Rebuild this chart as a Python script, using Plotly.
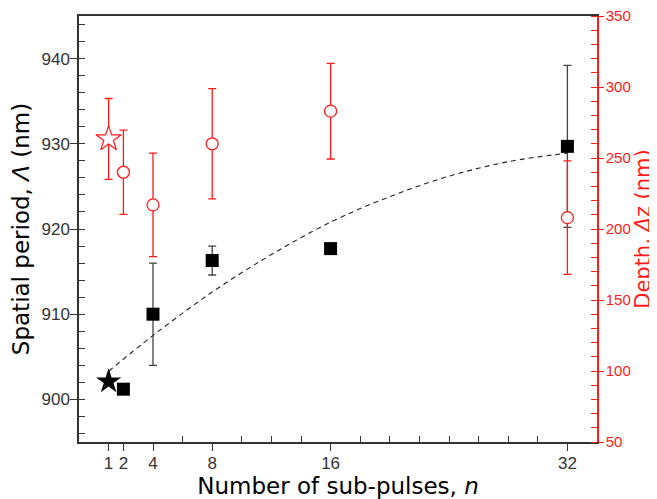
import plotly.graph_objects as go

# ---- data ----
n_period = [2, 4, 8, 16, 32]
period = [901.2, 910.0, 916.3, 917.7, 929.7]
period_err = [0, 6.0, 1.7, 0, 9.5]

n_star = [1]
period_star = [902.1]

n_depth = [2, 4, 8, 16, 32]
depth = [240.0, 217.0, 260.0, 283.0, 208.0]
depth_err = [29.7, 36.5, 38.8, 33.7, 40.0]

depth_star = [263.4]
depth_star_err = [28.5]

n_fit = [1, 4, 8, 12, 16, 20, 24, 28, 32]
period_fit = [903.3, 907.5, 912.6, 917.0, 920.8, 923.8, 926.2, 927.9, 928.9]

x_ticks = [1, 2, 4, 8, 16, 32]
x_minor = [6, 10, 12, 14, 18, 20, 22, 24, 26, 28, 30]
y_ticks = [900, 910, 920, 930, 940]
y2_ticks = [50, 100, 150, 200, 250, 300, 350]

BLACK = "#333333"
RED = "#ff1a1a"
FONT = "Liberation Sans, Arial, sans-serif"
TFONT = "DejaVu Sans, sans-serif"

fig = go.Figure()

fig.add_trace(go.Scatter(
    x=n_fit, y=period_fit, mode="lines", line=dict(color="#222", width=1.1, dash="5px,4px", shape="spline"),
    xaxis="x", yaxis="y", showlegend=False, hoverinfo="skip"))

fig.add_trace(go.Scatter(
    x=n_period, y=period, mode="markers",
    marker=dict(symbol="square", size=13, color="black", line=dict(width=0)),
    error_y=dict(type="data", array=period_err, color="#444", thickness=1.3, width=4),
    xaxis="x", yaxis="y", showlegend=False))

fig.add_trace(go.Scatter(
    x=n_star, y=period_star, mode="markers",
    marker=dict(symbol="star", size=19, color="black", line=dict(width=0)),
    xaxis="x", yaxis="y", showlegend=False))

fig.add_trace(go.Scatter(
    x=n_depth, y=depth, mode="markers",
    marker=dict(symbol="circle", size=12, color="white", line=dict(color=RED, width=1.3)),
    error_y=dict(type="data", array=depth_err, color=RED, thickness=1.3, width=4),
    xaxis="x", yaxis="y2", showlegend=False))

fig.add_trace(go.Scatter(
    x=n_star, y=depth_star, mode="markers",
    marker=dict(symbol="star", size=19, color="white", line=dict(color=RED, width=1.2)),
    error_y=dict(type="data", array=depth_star_err, color=RED, thickness=1.3, width=4),
    xaxis="x", yaxis="y2", showlegend=False))

tickfont = dict(family=FONT, size=17, color=BLACK)
redfont = dict(family=FONT, size=15, color=RED)

# the page body has an 8px default margin, so the figure is drawn 8px smaller
fig.update_layout(
    width=649, height=491,
    margin=dict(l=71, r=60, t=8, b=57, autoexpand=False),
    paper_bgcolor="white", plot_bgcolor="white",
    font=dict(family=FONT),
    xaxis=dict(
        range=[-1, 34], tickmode="array", tickvals=x_ticks, ticktext=[str(v) for v in x_ticks],
        ticks="outside", ticklen=7, tickwidth=1.2, tickcolor=BLACK, automargin=False,
        ticklabelstandoff=-2,
        minor=dict(tickmode="array", tickvals=x_minor, ticks="inside", ticklen=6, tickwidth=1.2, tickcolor=BLACK),
        showline=True, linecolor=BLACK, linewidth=1.5, mirror=True,
        showgrid=False, zeroline=False, tickfont=tickfont,
        title=dict(text="Number of sub-pulses, <i>n</i>", font=dict(family=TFONT, size=23, color="black"), standoff=2),
    ),
    xaxis2=dict(
        overlaying="x", anchor="y", side="bottom", range=[-1, 34], tickmode="array", tickvals=x_ticks,
        ticks="inside", ticklen=7, tickwidth=1.2, tickcolor=BLACK, mirror="ticks", automargin=False,
        showticklabels=False, showline=False, showgrid=False, zeroline=False,
    ),
    yaxis=dict(
        range=[895, 945], tickmode="array", tickvals=y_ticks,
        ticks="outside", ticklen=7, tickwidth=1.2, tickcolor=BLACK, automargin=False,
        ticklabelstandoff=-3, ticklabeloverflow="allow",
        minor=dict(tickmode="linear", tick0=896, dtick=2, ticks="inside", ticklen=6, tickwidth=1.2, tickcolor=BLACK),
        showline=True, linecolor=BLACK, linewidth=1.5, mirror=False,
        showgrid=False, zeroline=False, tickfont=tickfont,
        title=dict(text="Spatial period, <i>Λ</i> (nm)", font=dict(family=TFONT, size=23, color="black"), standoff=5),
    ),
    yaxis3=dict(
        overlaying="y", anchor="x", side="left", range=[895, 945], tickmode="array", tickvals=y_ticks,
        ticks="inside", ticklen=7, tickwidth=1.2, tickcolor=BLACK, automargin=False,
        showticklabels=False, showline=False, showgrid=False, zeroline=False,
    ),
    yaxis2=dict(
        overlaying="y", anchor="x", side="right", range=[50, 350], tickmode="array", tickvals=y2_ticks,
        ticks="outside", ticklen=5, tickwidth=1.2, tickcolor=RED, automargin=False,
        ticklabelstandoff=-1, ticklabeloverflow="allow",
        minor=dict(tickmode="linear", tick0=50, dtick=10, ticks="inside", ticklen=6, tickwidth=1.2, tickcolor=RED),
        showline=True, linecolor=RED, linewidth=1.5,
        showgrid=False, zeroline=False, tickfont=redfont,
        title=dict(text="Depth, <i>Δ</i>z (nm)", font=dict(family=TFONT, size=21, color=RED), standoff=1),
    ),
    yaxis4=dict(
        overlaying="y", anchor="x", side="right", range=[50, 350], tickmode="array", tickvals=y2_ticks,
        ticks="inside", ticklen=7, tickwidth=1.2, tickcolor=RED, automargin=False,
        showticklabels=False, showline=False, showgrid=False, zeroline=False,
    ),
)

fig.write_html("out.html")
